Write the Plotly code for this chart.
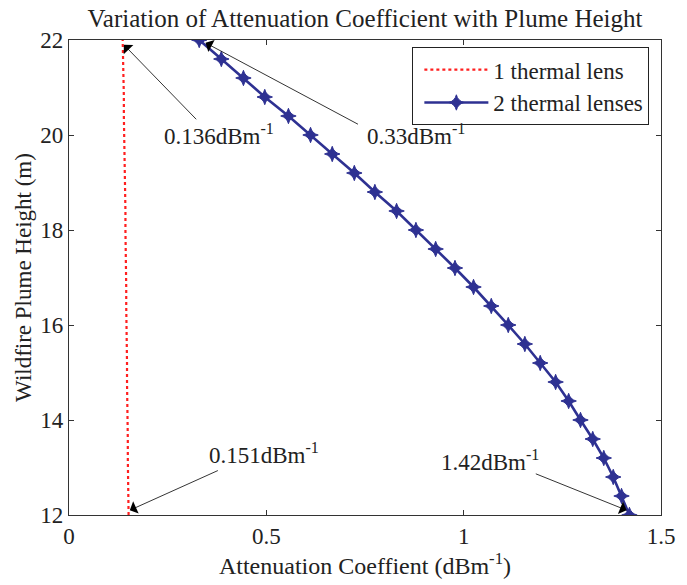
import plotly.graph_objects as go

# Plume heights (m), sampled every 0.4 m
heights = [12.0, 12.4, 12.8, 13.2, 13.6, 14.0, 14.4, 14.8, 15.2, 15.6, 16.0, 16.4, 16.8,
           17.2, 17.6, 18.0, 18.4, 18.8, 19.2, 19.6, 20.0, 20.4, 20.8, 21.2, 21.6, 22.0]

# Attenuation coefficient (dB/m), one thermal lens
atten_one_lens = [0.151, 0.150, 0.150, 0.149, 0.149, 0.148, 0.148, 0.147, 0.147, 0.146,
                  0.146, 0.145, 0.145, 0.144, 0.144, 0.143, 0.143, 0.142, 0.141, 0.141,
                  0.140, 0.139, 0.139, 0.138, 0.137, 0.136]

# Attenuation coefficient (dB/m), two thermal lenses
atten_two_lenses = [1.420, 1.400, 1.379, 1.355, 1.327, 1.296, 1.266, 1.233, 1.194, 1.155,
                    1.113, 1.070, 1.025, 0.978, 0.929, 0.879, 0.830, 0.775, 0.723, 0.667,
                    0.612, 0.556, 0.496, 0.442, 0.386, 0.330]

series_names = ["1 thermal lens", "2 thermal lenses"]

# Callouts: label, arrow head (x, y), arrow tail (x, y), label centre (x, y)
callout_labels = ["0.136dBm<sup>-1</sup>", "0.33dBm<sup>-1</sup>",
                  "0.151dBm<sup>-1</sup>", "1.42dBm<sup>-1</sup>"]
callout_head_x = [0.139, 0.346, 0.154, 1.413]
callout_head_y = [21.90, 21.94, 12.10, 12.10]
callout_tail_x = [0.326, 0.736, 0.381, 1.179]
callout_tail_y = [20.30, 20.21, 12.95, 12.88]
callout_text_x = [0.381, 0.878, 0.495, 1.067]
callout_text_y = [20.02, 20.02, 13.30, 13.15]

serif = "Liberation Serif, Times New Roman, serif"
ink = "#222"
blue = "#2E3192"
red = "#FF1F1F"

fig = go.Figure()
fig.add_trace(go.Scatter(
    x=atten_one_lens, y=heights, mode="lines", name=series_names[0],
    line=dict(color=red, width=2.2, dash="dot"),
))
fig.add_trace(go.Scatter(
    x=atten_two_lenses, y=heights, mode="lines+markers", name=series_names[1],
    line=dict(color=blue, width=2.6),
    marker=dict(symbol="star-diamond", size=11, color=blue, line=dict(color=blue, width=1)),
))

annotations = []
for hx, hy, tx, ty in zip(callout_head_x, callout_head_y, callout_tail_x, callout_tail_y):
    annotations.append(dict(
        x=hx, y=hy, xref="x", yref="y", ax=tx, ay=ty, axref="x", ayref="y",
        text="", showarrow=True, arrowhead=1, arrowsize=2.8, arrowwidth=0.8,
        arrowcolor="black",
    ))
for label, lx, ly in zip(callout_labels, callout_text_x, callout_text_y):
    annotations.append(dict(
        x=lx, y=ly, xref="x", yref="y", text=label, showarrow=False,
        font=dict(family=serif, size=23, color=ink),
    ))

axis_common = dict(
    showline=True, linecolor="#333", linewidth=1.2, mirror="ticks",
    ticks="inside", ticklen=5, tickcolor="#333", showgrid=False, zeroline=False,
    tickfont=dict(family=serif, size=23, color=ink),
)

fig.update_layout(
    width=687, height=585,
    margin=dict(l=69, r=15, t=40, b=70),
    paper_bgcolor="white", plot_bgcolor="white",
    title=dict(text="Variation of Attenuation Coefficient with Plume Height",
               x=0.5, xref="paper", xanchor="center",
               y=1 - 18 / 585, yref="container", yanchor="middle",
               font=dict(family=serif, size=25, color=ink)),
    xaxis=dict(range=[0, 1.5], tickvals=[0, 0.5, 1, 1.5], ticktext=["0", "0.5", "1", "1.5"],
               title=dict(text="Attenuation Coeffient (dBm<sup>-1</sup>)", standoff=4,
                          font=dict(family=serif, size=24, color=ink)),
               **axis_common),
    yaxis=dict(range=[12, 22], tickvals=[12, 14, 16, 18, 20, 22],
               title=dict(text="Wildfire Plume Height (m)", standoff=2,
                          font=dict(family=serif, size=23, color=ink)),
               **axis_common),
    legend=dict(x=0.58, y=0.985, xanchor="left", yanchor="top",
                bgcolor="white", bordercolor="#222", borderwidth=1,
                font=dict(family=serif, size=23, color=ink),
                tracegroupgap=0, itemwidth=64, indentation=6),
    annotations=annotations,
    showlegend=True,
)

fig.write_html("out.html")
